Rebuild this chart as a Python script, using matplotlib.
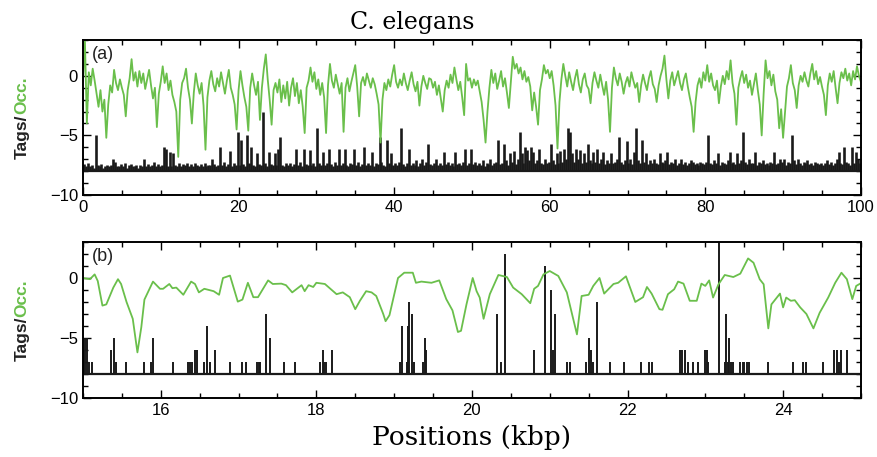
import numpy as np
import matplotlib
matplotlib.use("Agg")
import matplotlib.pyplot as plt
from matplotlib.ticker import MultipleLocator
from matplotlib.transforms import IdentityTransform

GREEN = "#6abf4b"

# panel (a): occupancy every 0.25 kbp from 0 to 100
occ_a = [
    -0.5, 3.0, -4.0, 0.3, -0.8, 0.6, -0.4, -1.5, -2.6, -1.2, -3.0, -2.0, -5.2, -2.4, -0.8, -1.4, 0.5, -0.6, -1.2, -0.3,
    -1.0, -1.6, -3.4, -1.2, -0.2, 1.4, -0.4, 0.3, -0.9, 0.4, -0.6, 0.2, -1.1, -0.3, 0.5, -0.8, -1.9, -1.0, -4.3, -1.5,
    -0.5, 0.8, -0.6, 0.2, -1.2, -0.4, -1.6, -2.2, -3.0, -6.8, -2.0, -0.6, -0.2, 0.6, -1.0, -2.0, -4.0, -1.4, 0.2, -0.8,
    -1.5, -0.6, -2.5, -6.2, -1.8, -0.4, 0.4, -0.7, -1.3, -0.2, -0.9, 0.3, -0.6, -1.5, -0.4, 0.5, -1.0, -1.6, -2.4, -4.5,
    -1.2, 0.4, -0.8, -1.8, -2.6, -4.6, -1.0, 0.2, -0.8, -1.6, -0.5, -3.7, -1.0, 0.6, 1.8, -0.3, -2.0, -4.1, -1.2, -0.6,
    -1.4, -0.3, -2.2, -0.8, -1.9, -0.5, -2.5, -1.0, -0.2, -1.7, -0.6, -2.3, -1.2, -2.6, -4.8, -1.0, -0.4, 0.7, -0.5, 0.3,
    -1.1, -0.3, -1.6, -0.6, -1.8, -4.8, -0.8, 1.0, -0.4, -1.0, 0.1, -0.7, -1.5, -0.6, -4.7, -1.0, -0.2, -1.3, -0.5, 0.2,
    0.9, -0.9, -3.4, -0.6, -0.1, -0.8, 0.2, -0.4, -1.0, -0.2, -0.7, -1.5, -2.4, -5.6, -2.0, -0.6, -1.2, -0.3, -0.9, 0.1,
    0.9, -0.5, -1.0, -0.3, -0.8, 0.2, -0.6, -1.2, -0.4, 0.3, -0.7, -1.3, -0.5, -2.5, -0.9, 0.0, -0.6, -1.1, -0.2, -0.3,
    -1.0, -0.5, -1.6, -0.8, -1.9, -3.0, -1.2, -0.4, -1.0, 0.1, -0.6, 0.7, -0.3, -1.2, -0.5, -1.8, -3.3, 1.0, -0.4, -0.2,
    -1.0, -0.3, -0.8, -0.4, -1.3, -2.2, -3.7, -5.6, -3.0, -1.0, 0.5, -0.6, 0.2, -1.1, -0.4, 0.4, -0.9, -0.2, -1.4, -2.7,
    -0.6, 1.6, 0.6, 1.0, 0.2, 0.7, -0.3, 0.4, -0.5, -0.1, -0.9, -2.9, -1.4, -2.6, -4.1, -1.2, -0.3, 0.9, 0.2, 0.5,
    -0.2, 0.4, -0.8, -2.5, -6.1, -2.2, -0.3, 1.0, 0.0, -0.9, 0.3, -0.5, -1.2, -0.2, 0.5, -0.7, -1.4, -0.3, 0.2, -0.8,
    -1.1, -2.3, -0.6, 0.3, -0.4, -1.0, 0.1, -0.8, -1.6, -0.5, -2.0, -4.7, -1.0, 0.7, -0.2, -0.8, 0.2, -0.5, -1.5, -0.6,
    -0.1, -0.9, 0.3, -0.4, -1.0, -0.6, -2.2, -0.8, 0.1, -0.6, -1.2, -0.2, 0.4, -0.7, -1.1, -2.2, -0.8, 0.0, 0.6, 1.7,
    -0.3, -1.9, -0.4, 0.3, -0.8, -0.2, 0.4, -0.6, -1.2, -0.3, 0.2, -0.9, -1.8, -2.6, -4.7, -2.2, -0.8, -0.2, -1.0, 0.3,
    -0.4, 0.9, -0.5, 0.2, -0.8, -1.2, -0.4, -2.3, -0.9, 0.0, -0.7, 0.4, -0.3, 1.3, -0.6, -1.5, -4.1, -1.0, -0.2, 0.4,
    -0.6, 0.1, -1.0, -0.4, -1.6, -0.7, 0.2, -1.2, -2.4, -5.0, -1.5, 1.3, -0.2, 0.4, -0.8, 0.1, -1.3, -2.0, -4.4, -2.8,
    -5.2, -3.0, -0.9, -0.2, 0.9, -0.6, -1.2, -2.7, -0.8, 0.0, -0.5, 0.3, -0.4, -0.9, 0.2, 1.0, -0.3, 0.4, -0.7, -0.1,
    -0.9, -1.6, -3.3, -0.8, 0.2, -0.5, 0.4, -1.0, -2.3, -0.6, 0.3, -0.2, 0.6, -0.4, 0.2, -0.8, 0.4, -0.3, 0.8, 0.0,
    -0.5,
]

# panel (a): tag counts in 0.25 kbp bins
tags_a = [
    0.6, 0.4, 0.7, 0.4, 0.5, 0.3, 3.0, 0.5, 0.4, 0.6, 0.3, 0.4, 0.5, 0.4, 0.5, 1.0, 0.8, 0.4, 0.4, 0.6,
    0.4, 0.7, 0.3, 0.5, 0.6, 0.4, 0.4, 0.5, 0.3, 0.5, 0.4, 1.0, 0.4, 0.6, 0.4, 0.5, 0.8, 0.4, 0.6, 0.4,
    0.5, 2.0, 1.9, 0.4, 1.6, 0.4, 1.5, 0.5, 0.4, 0.7, 0.4, 0.6, 0.5, 0.7, 0.4, 0.6, 0.4, 0.7, 0.5, 0.4,
    0.6, 0.4, 0.7, 0.4, 0.5, 0.5, 1.0, 0.6, 0.4, 0.5, 2.0, 0.5, 0.8, 0.4, 0.6, 1.7, 0.4, 0.7, 0.5, 3.3,
    0.5, 2.6, 0.6, 0.4, 3.0, 0.7, 2.0, 0.5, 0.4, 1.5, 0.6, 0.5, 5.0, 0.7, 0.4, 1.6, 0.6, 0.5, 1.5, 0.5,
    1.9, 2.9, 0.5, 0.4, 0.7, 0.5, 0.7, 0.4, 0.6, 1.9, 0.5, 0.8, 0.4, 1.9, 0.6, 0.5, 1.8, 0.5, 0.7, 0.4,
    3.6, 0.7, 0.5, 1.6, 0.5, 0.7, 1.9, 0.6, 0.4, 0.8, 0.5, 1.9, 0.5, 0.7, 1.9, 0.5, 0.4, 0.7, 0.6, 1.9,
    0.5, 0.8, 0.4, 0.6, 2.0, 0.5, 0.7, 0.5, 1.6, 0.4, 0.7, 0.6, 2.9, 0.8, 0.5, 0.4, 2.6, 0.7, 1.5, 0.5,
    0.7, 0.5, 0.8, 3.6, 0.6, 0.4, 0.7, 1.9, 0.5, 0.7, 0.5, 0.9, 0.4, 0.7, 1.0, 0.5, 0.8, 2.3, 0.6, 0.5,
    0.7, 1.0, 0.5, 0.7, 0.5, 1.6, 0.6, 0.8, 0.5, 0.7, 0.4, 1.6, 0.6, 0.7, 0.5, 0.8, 1.9, 0.5, 0.7, 1.9,
    0.6, 0.8, 0.5, 0.7, 0.5, 0.9, 0.4, 0.7, 0.6, 1.0, 0.5, 0.7, 0.8, 2.6, 0.6, 0.7, 2.3, 0.9, 0.5, 1.5,
    0.8, 1.7, 0.6, 1.0, 3.3, 1.5, 0.7, 2.0, 1.8, 0.9, 2.0, 1.6, 0.7, 0.9, 1.9, 0.7, 0.6, 1.0, 0.7, 0.8,
    2.3, 0.9, 0.6, 1.5, 0.7, 1.7, 0.8, 1.9, 1.0, 3.6, 3.3, 1.5, 0.8, 1.9, 1.0, 1.8, 0.7, 1.5, 0.8, 2.3,
    0.9, 0.7, 1.6, 0.8, 1.9, 0.7, 1.0, 1.6, 0.6, 0.9, 0.7, 1.5, 0.7, 0.8, 1.0, 2.9, 0.8, 0.6, 0.9, 2.5,
    0.7, 1.0, 0.6, 1.6, 3.6, 0.9, 0.7, 2.6, 0.8, 1.5, 0.6, 0.9, 0.7, 1.0, 0.7, 0.6, 1.5, 0.8, 0.7, 0.9,
    1.6, 0.6, 0.8, 0.7, 1.0, 0.5, 0.7, 1.0, 0.6, 0.8, 0.5, 0.7, 0.9, 0.8, 0.6, 0.7, 0.5, 0.8, 0.7, 0.6,
    0.8, 3.0, 0.7, 0.6, 0.9, 0.7, 1.5, 0.5, 0.8, 0.7, 0.6, 0.9, 1.6, 0.7, 0.8, 0.6, 1.5, 0.7, 0.9, 3.3,
    0.8, 0.6, 1.0, 0.7, 0.7, 1.6, 0.5, 0.8, 0.7, 0.9, 0.6, 0.7, 0.5, 0.8, 0.7, 1.6, 0.6, 0.7, 1.0, 0.8,
    1.0, 0.5, 0.8, 0.7, 3.0, 0.9, 0.6, 1.0, 0.7, 0.5, 0.8, 0.7, 0.9, 0.6, 0.7, 0.5, 0.8, 0.7, 0.6, 0.7,
    0.5, 0.7, 0.9, 0.6, 0.8, 0.5, 0.7, 1.0, 1.6, 0.7, 0.6, 2.0, 0.8, 0.7, 0.5, 2.0, 0.7, 1.6, 1.0, 0.7,
]

# panel (b): zoom 15-25 kbp
pos_b = [
    15.00, 15.09, 15.15, 15.19, 15.25, 15.30, 15.39, 15.45, 15.49, 15.56,
    15.64, 15.70, 15.75, 15.79, 15.90, 15.99, 16.03, 16.11, 16.15, 16.20,
    16.29, 16.39, 16.44, 16.49, 16.56, 16.62, 16.68, 16.75, 16.80, 16.89,
    16.99, 17.05, 17.12, 17.19, 17.25, 17.38, 17.44, 17.55, 17.61, 17.69,
    17.81, 17.85, 17.90, 17.96, 18.00, 18.11, 18.26, 18.34, 18.43, 18.50,
    18.56, 18.64, 18.71, 18.77, 18.86, 18.89, 18.94, 19.05, 19.13, 19.24,
    19.28, 19.35, 19.48, 19.58, 19.67, 19.75, 19.82, 19.86, 19.93, 20.01,
    20.06, 20.10, 20.15, 20.23, 20.34, 20.45, 20.53, 20.64, 20.75, 20.80,
    20.85, 20.92, 21.00, 21.11, 21.22, 21.35, 21.41, 21.50, 21.56, 21.64,
    21.70, 21.82, 21.88, 21.98, 22.10, 22.20, 22.25, 22.31, 22.41, 22.45,
    22.52, 22.60, 22.65, 22.72, 22.80, 22.89, 22.95, 23.00, 23.05, 23.10,
    23.17, 23.25, 23.36, 23.45, 23.55, 23.62, 23.70, 23.75, 23.81, 23.85,
    23.96, 24.00, 24.04, 24.10, 24.15, 24.22, 24.30, 24.39, 24.47, 24.58,
    24.67, 24.75, 24.82, 24.89, 24.94, 25.01,
]
occ_b = [
    0.0, -0.1, 0.3, -0.25, -2.3, -2.2, -0.8, -0.1, -0.5, -2.0,
    -3.4, -6.2, -4.1, -1.8, -0.3, -0.9, -0.9, -0.5, -0.85, -0.8,
    -1.4, -0.3, -0.5, -1.2, -0.9, -1.0, -1.1, -1.4, 0.0, 0.2,
    -1.97, -1.8, -0.4, -1.6, -1.6, -0.2, -0.5, -0.47, -0.6, -1.2,
    -0.6, -1.1, -0.6, -0.75, -0.4, -0.5, -1.35, -1.2, -1.6, -2.6,
    -1.9, -1.1, -1.2, -1.5, -3.0, -3.6, -3.1, 0.0, 0.44, 0.44,
    -0.4, -0.3, -0.4, -0.2, -1.76, -2.7, -4.5, -4.4, -2.2, 0.0,
    -1.1, -1.63, -3.4, -1.35, 0.25, 0.08, -0.8, -1.35, -2.1, -0.9,
    -0.66, 0.3, 0.58, 0.17, -1.2, -4.7, -1.5, -1.4, -0.66, 0.0,
    -1.3, -0.5, -0.4, 0.14, -2.0, -1.6, -0.75, -1.3, -2.6, -2.65,
    -1.35, -0.94, -0.3, -0.47, -1.9, -1.9, -0.47, -0.66, -0.2, -1.63,
    -0.52, 0.25, 0.08, 0.36, 1.63, 1.27, -0.11, -0.52, -4.2, -2.2,
    -1.3, -2.45, -1.63, -1.9, -1.85, -2.45, -3.0, -4.2, -2.9, -1.63,
    -0.4, 0.44, -0.1, -1.76, -0.66, -0.4,
]

tag_pos_b = [
    15.01, 15.03, 15.05, 15.08, 15.12, 15.36, 15.40, 15.42, 15.55, 15.78, 15.87, 15.90,
    16.16, 16.35, 16.37, 16.40, 16.44, 16.46, 16.55, 16.60, 16.63, 16.70,
    16.89, 17.04, 17.10, 17.24, 17.26, 17.28, 17.35, 17.41, 17.58, 17.72,
    18.05, 18.08, 18.10, 18.12, 18.20,
    19.07, 19.10, 19.16, 19.18, 19.19, 19.23, 19.26, 19.37, 19.40, 19.41,
    20.32, 20.37, 20.42, 20.80, 20.94, 21.02, 21.04, 21.07, 21.22, 21.26,
    21.47, 21.51, 21.53, 21.55, 21.61, 21.78, 21.95, 22.17, 22.28, 22.32,
    22.68, 22.70, 22.74, 22.78, 22.84, 22.90, 23.00, 23.02, 23.04, 23.18,
    23.25, 23.26, 23.29, 23.31, 23.33, 23.36, 23.44, 23.48, 23.50, 23.53, 23.56,
    23.80, 24.13, 24.26, 24.30, 24.51, 24.66, 24.69, 24.72, 24.74, 24.82,
]
tag_cnt_b = [
    2, 3, 3, 1, 1, 2, 3, 1, 1, 1, 1, 3,
    1, 1, 1, 1, 2, 2, 1, 4, 1, 2,
    1, 1, 1, 1, 1, 1, 5, 3, 1, 1,
    1, 2, 1, 1, 2,
    1, 4, 1, 4, 6, 5, 1, 1, 3, 2,
    5, 1, 10, 2, 9, 7, 2, 5, 1, 1,
    1, 3, 2, 1, 6, 1, 1, 1, 1, 1,
    2, 2, 2, 1, 1, 1, 2, 2, 1, 12,
    1, 5, 1, 3, 1, 1, 1, 1, 1, 1, 1,
    1, 1, 1, 1, 1, 2, 2, 1, 2, 2,
]

BASE = -8

fig = plt.figure(figsize=(8.78, 4.57), dpi=100)
ax_a = fig.add_axes([0.0945, 0.5733, 0.886, 0.339])
ax_b = fig.add_axes([0.0945, 0.1291, 0.886, 0.3414])

x_occ_a = np.linspace(0, 100, len(occ_a))
x_tag_a = np.arange(len(tags_a)) * 0.25 + 0.125

ax_a.vlines(x_tag_a, BASE, BASE + np.array(tags_a), color="#1a1a1a", lw=1.9)
ax_a.axhline(BASE, color="#1a1a1a", lw=1.6)
ax_a.plot(x_occ_a, occ_a, color=GREEN, lw=1.3)

ax_b.vlines(tag_pos_b, BASE, BASE + np.array(tag_cnt_b), color="#1a1a1a", lw=1.4)
ax_b.axhline(BASE, color="#1a1a1a", lw=1.6)
ax_b.plot(pos_b, occ_b, color=GREEN, lw=1.3)

ax_a.set_xlim(0, 100)
ax_a.xaxis.set_major_locator(MultipleLocator(20))
ax_a.xaxis.set_minor_locator(MultipleLocator(5))
ax_b.set_xlim(15, 25)
ax_b.xaxis.set_major_locator(MultipleLocator(2))
ax_b.xaxis.set_minor_locator(MultipleLocator(0.5))

for ax, tag in ((ax_a, "(a)"), (ax_b, "(b)")):
    ax.set_ylim(-10, 3)
    ax.yaxis.set_major_locator(MultipleLocator(5))
    ax.yaxis.set_minor_locator(MultipleLocator(1))
    ax.tick_params(which="both", direction="in", top=True, right=True, width=1.0)
    ax.tick_params(which="major", length=6)
    ax.tick_params(which="minor", length=3.8)
    ax.tick_params(labelsize=12)
    for lab in ax.get_xticklabels() + ax.get_yticklabels():
        lab.set_family("Liberation Sans")
    for s in ax.spines.values():
        s.set_linewidth(1.4)
    ax.text(0.012, 0.96, tag, transform=ax.transAxes, ha="left", va="top",
            fontsize=13, family="Liberation Sans", color="#222222")

ax_a.set_title("C. elegans", family="DejaVu Serif", fontsize=17, pad=8, x=0.423)
ax_b.set_xlabel("Positions (kbp)", family="DejaVu Serif", fontsize=19, labelpad=5)

# two-colour y labels
fig.canvas.draw()
r = fig.canvas.get_renderer()
for ax in (ax_a, ax_b):
    bb = ax.get_window_extent()
    yc = (bb.y0 + bb.y1) / 2
    t1 = fig.text(0, 0, "Tags/", rotation=90, fontsize=12.5, fontweight="bold",
                  family="Liberation Sans", color="#222222",
                  ha="center", va="bottom", transform=IdentityTransform())
    t2 = fig.text(0, 0, "Occ.", rotation=90, fontsize=12.5, fontweight="bold",
                  family="Liberation Sans", color=GREEN,
                  ha="center", va="bottom", transform=IdentityTransform())
    h1 = t1.get_window_extent(r).height
    h2 = t2.get_window_extent(r).height
    y0 = yc - (h1 + h2) / 2
    t1.set_position((22, y0))
    t2.set_position((22, y0 + h1))

fig.savefig("out.png", dpi=100)
